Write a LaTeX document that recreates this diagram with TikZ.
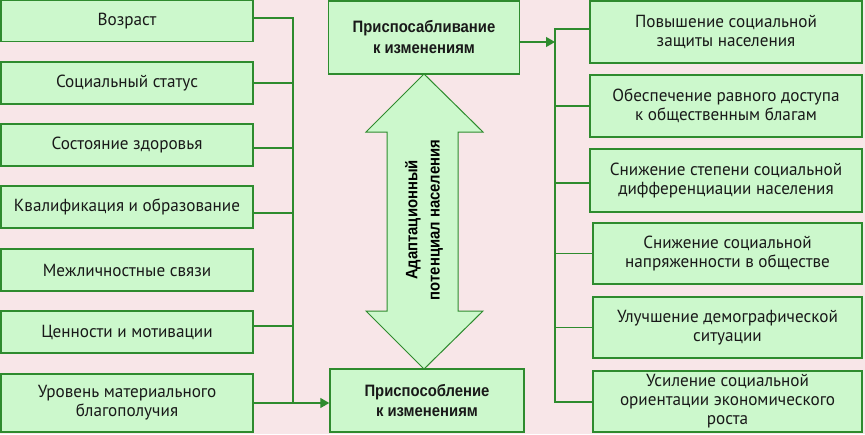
\documentclass[tikz,border=0pt]{standalone}
\usepackage{fontspec}
\setmainfont[FakeStretch=0.98]{PT Sans}
\newfontfamily\boldnarrow[FakeStretch=0.9]{Liberation Sans Bold}
\usetikzlibrary{arrows.meta}
\definecolor{bgpink}{HTML}{F8E6E8}
\definecolor{boxfill}{HTML}{CCF8CC}
\definecolor{boxline}{HTML}{2E8B2E}
\tikzset{
  box/.style={draw=boxline, line width=1.4pt, fill=boxfill, align=center, inner sep=2pt,
    font=\fontsize{17.5}{19}\selectfont, text=black!90},
  cbox/.style={box, font=\boldnarrow\fontsize{16.5}{21}\selectfont},
  conn/.style={draw=boxline, line width=1.3pt},
  arr/.style={conn, -{Triangle[length=9pt,width=10pt]}, color=boxline},
}
\begin{document}
\begin{tikzpicture}[x=1pt,y=-1pt]
\fill[bgpink] (0,0) rectangle (865,434);
\useasboundingbox (0,0) rectangle (865,434);
% left boxes
\node[box, minimum width=252, minimum height=41] (b1) at (127,21) {Возраст};
\node[box, minimum width=252, minimum height=42] (b2) at (127,83) {Социальный статус};
\node[box, minimum width=252, minimum height=42] (b3) at (127,145) {Состояние здоровья};
\node[box, minimum width=252, minimum height=42] (b4) at (127,207) {Квалификация и образование};
\node[box, minimum width=252, minimum height=42] (b5) at (127,270) {Межличностные связи};
\node[box, minimum width=252, minimum height=42] (b6) at (127,332) {Ценности и мотивации};
\node[box, minimum width=252, minimum height=58] (b7) at (127,403) {Уровень материального\\благополучия};
% center boxes
\node[cbox, minimum width=191, minimum height=73] (tb) at (424,37.5) {Приспосабливание\\к изменениям};
\node[cbox, minimum width=194, minimum height=63, font=\boldnarrow\fontsize{16.5}{20}\selectfont] (pb) at (427,400.5) {Приспособление\\к изменениям};
% double arrow
\draw[draw=boxline, line width=1pt, fill=boxfill]
  (424,74) -- (483,132) -- (458,132) -- (458,311) -- (483,311) -- (424,369)
  -- (366,311) -- (387,311) -- (387,132) -- (366,132) -- cycle;
\node[font=\boldnarrow\fontsize{16.5}{22}\selectfont, rotate=90, align=center] (at) at (424,220)
  {Адаптационный\\потенциал населения};
% right boxes
\node[box, minimum width=272, minimum height=62] (r1) at (726,32) {Повышение социальной\\защиты населения};
\node[box, minimum width=272, minimum height=62] (r2) at (726,106) {Обеспечение равного доступа\\к общественным благам};
\node[box, minimum width=272, minimum height=63] (r3) at (726,180.5) {Снижение степени социальной\\дифференциации населения};
\node[box, minimum width=269, minimum height=61] (r4) at (727.5,253.5) {Снижение социальной\\напряженности в обществе};
\node[box, minimum width=269, minimum height=61] (r5) at (727.5,327.5) {Улучшение демографической\\ситуации};
\node[box, minimum width=269, minimum height=61] (r6) at (727.5,401.5) {Усиление социальной\\ориентации экономического\\роста};
% left bus
\coordinate (lt) at (293,18);
\coordinate (lb) at (293,403);
\draw[conn] ([yshift=3]b1.east) -- (lt) -- (lb);
\draw[conn] (b2.east) -- (b2.east -| lt);
\draw[conn] ([yshift=-3]b3.east) -- ([yshift=-3]b3.east -| lt);
\draw[conn] ([yshift=-6]b4.east) -- ([yshift=-6]b4.east -| lt);
\draw[conn] ([yshift=6]b6.east) -- ([yshift=6]b6.east -| lt);
\draw[arr] (b7.east) -- (b7.east -| pb.west);
% right bus
\coordinate (rt) at (555,29);
\coordinate (rb) at (555,402);
\draw[arr] ([yshift=-4.5]tb.east) -- ([yshift=-4.5]tb.east -| rt);
\draw[conn] ([yshift=3]r1.west) -- (rt) -- (rb) -- (rb -| r6.west);
\draw[conn] (r2.west) -- (r2.west -| rt);
\draw[conn] ([yshift=-2.5]r3.west) -- ([yshift=-2.5]r3.west -| rt);
\draw[conn] (r4.west) -- (r4.west -| rt);
\draw[conn] (r5.west) -- (r5.west -| rt);
\end{tikzpicture}
\end{document}
